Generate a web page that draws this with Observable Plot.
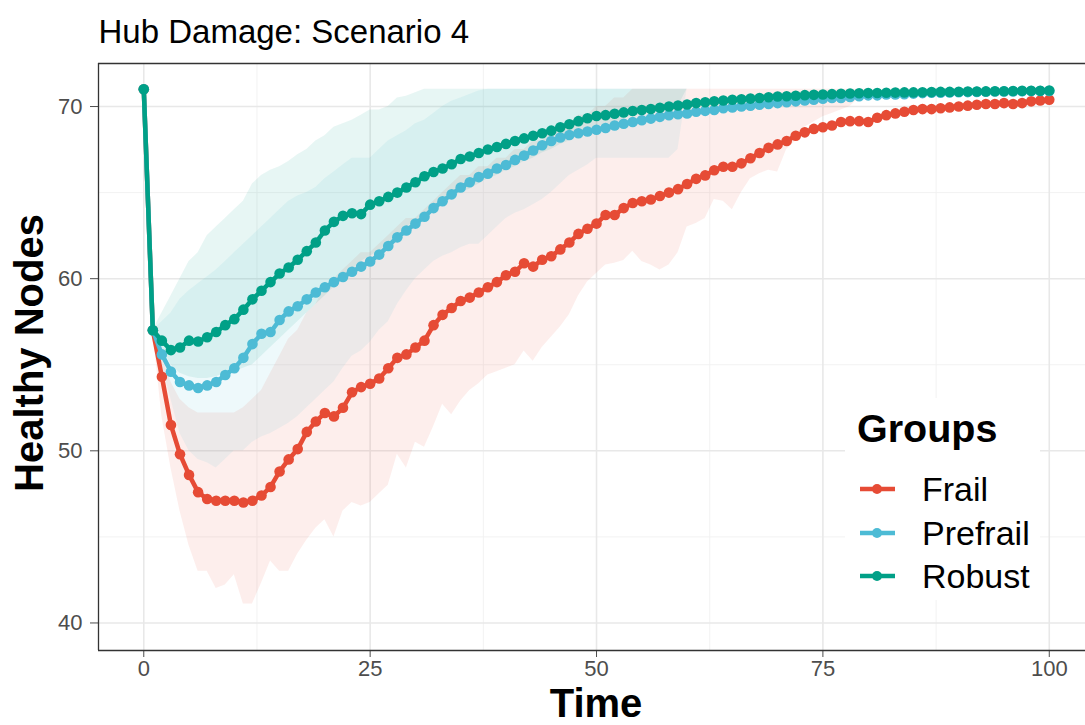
<!DOCTYPE html>
<html>
<head>
<meta charset="utf-8">
<script src="https://cdn.jsdelivr.net/npm/d3@7"></script>
<script src="https://cdn.jsdelivr.net/npm/@observablehq/plot@0.6"></script>
<style>
  body { margin: 0; background: #fff; font-family: "Liberation Sans", Arial, Helvetica, sans-serif; }
  #wrap { position: relative; width: 1085px; height: 725px; overflow: hidden; background: #fff; }
  #legend { position: absolute; left: 845px; top: 398px; }
</style>
</head>
<body>
<div id="wrap"></div>
<script>
// ---------------- data ----------------
const chartTitle = "Hub Damage: Scenario 4";
const xTitle = "Time";
const yTitle = "Healthy Nodes";
const legendTitle = "Groups";
const groups = ["Frail", "Prefrail", "Robust"];
const colors = ["#E64B35", "#4DBBD5", "#00A087"];

const xTicks = [0, 25, 50, 75, 100];
const xMinor = [12.5, 37.5, 62.5, 87.5];
const yTicks = [40, 50, 60, 70];
const yMinor = [45, 55, 65];
const xDomain = [-5, 104];
const yDomain = [38.4, 72.5];

const time = [
  0, 1, 2, 3, 4, 5, 6, 7, 8, 9,
  10, 11, 12, 13, 14, 15, 16, 17, 18, 19,
  20, 21, 22, 23, 24, 25, 26, 27, 28, 29,
  30, 31, 32, 33, 34, 35, 36, 37, 38, 39,
  40, 41, 42, 43, 44, 45, 46, 47, 48, 49,
  50, 51, 52, 53, 54, 55, 56, 57, 58, 59,
  60, 61, 62, 63, 64, 65, 66, 67, 68, 69,
  70, 71, 72, 73, 74, 75, 76, 77, 78, 79,
  80, 81, 82, 83, 84, 85, 86, 87, 88, 89,
  90, 91, 92, 93, 94, 95, 96, 97, 98, 99,
  100];

const frailMean = [
  71, 57, 54.3, 51.5, 49.8, 48.6, 47.6, 47.2, 47.1, 47.1,
  47.1, 47.0, 47.1, 47.4, 47.9, 48.8, 49.5, 50.1, 51.1, 51.7,
  52.2, 52.0, 52.5, 53.4, 53.7, 53.9, 54.2, 54.8, 55.4, 55.6,
  56.0, 56.4, 57.3, 57.9, 58.3, 58.7, 58.9, 59.2, 59.5, 59.8,
  60.2, 60.4, 60.9, 60.7, 61.1, 61.3, 61.7, 62.1, 62.6, 62.9,
  63.2, 63.7, 63.7, 64.1, 64.4, 64.5, 64.6, 64.8, 65.0, 65.2,
  65.5, 65.8, 66.0, 66.3, 66.5, 66.5, 66.7, 67.0, 67.3, 67.6,
  67.8, 68.0, 68.3, 68.5, 68.7, 68.8, 68.9, 69.1, 69.15, 69.15,
  69.1, 69.35, 69.5, 69.6, 69.7, 69.8, 69.85, 69.85, 69.9, 69.95,
  70.0, 70.05, 70.1, 70.15, 70.15, 70.2, 70.15, 70.2, 70.3, 70.35,
  70.4];

const prefrailMean = [
  71, 57, 55.6, 54.6, 54.0, 53.8, 53.65, 53.8, 54.0, 54.4,
  54.8, 55.4, 56.2, 56.8, 56.9, 57.6, 58.1, 58.4, 58.8, 59.2,
  59.5, 59.8, 60.1, 60.4, 60.7, 61.0, 61.4, 61.9, 62.4, 62.8,
  63.2, 63.6, 64.1, 64.5, 64.9, 65.3, 65.6, 65.9, 66.1, 66.4,
  66.6, 66.9, 67.15, 67.45, 67.75, 68.0, 68.2, 68.35, 68.45, 68.55,
  68.65, 68.75, 68.9, 69.0, 69.1, 69.2, 69.3, 69.4, 69.5, 69.55,
  69.6, 69.7, 69.75, 69.8, 69.9, 69.95, 70.0, 70.05, 70.1, 70.15,
  70.2, 70.25, 70.3, 70.35, 70.4, 70.45, 70.5, 70.5, 70.55, 70.6,
  70.65, 70.65, 70.7, 70.7, 70.72, 70.75, 70.78, 70.8, 70.8, 70.82,
  70.83, 70.84, 70.85, 70.86, 70.87, 70.88, 70.88, 70.89, 70.9, 70.9,
  70.9];

const robustMean = [
  71, 57, 56.4, 55.85, 56.0, 56.4, 56.35, 56.6, 56.9, 57.3,
  57.65, 58.2, 58.8, 59.3, 59.8, 60.3, 60.65, 61.1, 61.6, 62.1,
  62.8, 63.3, 63.65, 63.8, 63.75, 64.3, 64.5, 64.75, 65.0, 65.3,
  65.6, 65.95, 66.2, 66.4, 66.65, 66.95, 67.1, 67.3, 67.5, 67.65,
  67.83, 68.0, 68.15, 68.3, 68.45, 68.6, 68.8, 68.97, 69.15, 69.32,
  69.45, 69.5, 69.58, 69.66, 69.74, 69.8, 69.86, 69.93, 70.0, 70.06,
  70.12, 70.2, 70.25, 70.3, 70.35, 70.39, 70.42, 70.46, 70.5, 70.54,
  70.58, 70.6, 70.63, 70.66, 70.68, 70.7, 70.72, 70.74, 70.76, 70.77,
  70.78, 70.79, 70.8, 70.81, 70.82, 70.82, 70.83, 70.84, 70.85, 70.85,
  70.86, 70.87, 70.87, 70.88, 70.89, 70.89, 70.9, 70.91, 70.92, 70.92,
  70.93];

const frailLower = [
  71, 57, 52, 49, 46.5, 44.5, 43, 43, 42, 42.2,
  42.8, 41.1, 41.1, 42.3, 43.6, 43, 43, 44, 44.8, 45.5,
  46, 45, 46.5, 47, 46.8, 47, 47.5, 48, 49.8, 49,
  50.5, 50.2, 51.4, 52.7, 52.1, 52.9, 53.5, 53.9, 54.4, 54.6,
  54.8, 55, 55.8, 55.2, 56, 56.6, 57.2, 57.9, 59, 59.8,
  60.3, 60.8, 60.9, 61.05, 61.6, 61, 60.8, 60.5, 60.8, 61.5,
  63, 63.2, 63.5, 64.6, 64.5, 64, 65, 65.8, 66.1, 66.3,
  66.2, 67.5, 68, 68.8, 69.1, 69.4, 69.6, 69.8, 70, 70.5,
  71, 71, 71, 71, 71, 71, 71, 71, 71, 71,
  71, 71, 71, 71, 71, 71, 71, 71, 71, 71,
  71];

const frailUpper = [
  71, 57, 55.5, 54, 53, 52.5, 52.2, 52.2, 52.2, 52.2,
  52.2, 52.5, 53, 53.5, 54.5, 55.5, 56.5, 57, 58, 58.5,
  59.5, 60, 60.5, 61, 61.5, 61.5, 62, 62.5, 63, 63.5,
  63.5, 64, 64.5, 65, 65.5, 66, 66, 66.5, 66.5, 67,
  67, 67.5, 67.5, 68, 68, 68.5, 69, 69, 69.5, 69.5,
  70, 70, 70.5, 70.5, 71, 71, 71, 71, 71, 71,
  71, 71, 71, 71, 71, 71, 71, 71, 71, 71,
  71, 71, 71, 71, 71, 71, 71, 71, 71, 71,
  71, 71, 71, 71, 71, 71, 71, 71, 71, 71,
  71, 71, 71, 71, 71, 71, 71, 71, 71, 71,
  71];

const prefrailLower = [
  71, 57, 55, 53, 51, 50, 49.5, 49.3, 49, 49.5,
  50, 50, 50.5, 50.8, 51, 51.3, 51.6, 52, 52.5, 53,
  53.5, 54, 54.8, 55.5, 55.8, 56.3, 57, 57.5, 58.5, 59.3,
  60, 60.5, 61, 61.3, 61.5, 61.8, 62, 62, 62.5, 63,
  63.5, 63.8, 64, 64.3, 64.6, 65, 65.5, 66, 66.3, 66.6,
  67, 67, 67, 67, 67, 67, 67, 67, 67, 67.5,
  71, 71, 71, 71, 71, 71, 71, 71, 71, 71,
  71, 71, 71, 71, 71, 71, 71, 71, 71, 71,
  71, 71, 71, 71, 71, 71, 71, 71, 71, 71,
  71, 71, 71, 71, 71, 71, 71, 71, 71, 71,
  71];

const prefrailUpper = [
  71, 57, 57.5, 58, 58.8, 59.3, 59.7, 60.1, 60.5, 61,
  61.5, 62, 62.5, 63, 63.5, 64, 64.5, 64.8, 65, 65.3,
  65.8, 66.2, 66.6, 67, 67, 67, 67.5, 68, 68.3, 68.6,
  69, 69.2, 69.6, 70, 70.3, 70.5, 70.7, 70.9, 71, 71,
  71, 71, 71, 71, 71, 71, 71, 71, 71, 71,
  71, 71, 71, 71, 71, 71, 71, 71, 71, 71,
  71, 71, 71, 71, 71, 71, 71, 71, 71, 71,
  71, 71, 71, 71, 71, 71, 71, 71, 71, 71,
  71, 71, 71, 71, 71, 71, 71, 71, 71, 71,
  71, 71, 71, 71, 71, 71, 71, 71, 71, 71,
  71];

const robustLower = [
  71, 57, 56, 55, 54.5, 54.3, 54.2, 54.2, 54.3, 54.5,
  54.6, 54.8, 55, 55.5, 56, 56.5, 57, 57.5, 58, 58.5,
  59, 59.5, 60, 60.5, 61, 61.3, 61.6, 62, 62.5, 63,
  63.3, 63.6, 64, 64.3, 64.6, 65, 65.2, 65.5, 65.8, 66,
  66.3, 66.5, 66.8, 67, 67.3, 67.5, 67.8, 68, 68.3, 68.5,
  68.8, 69, 69, 69.3, 69.5, 69.5, 69.8, 70, 70, 70,
  71, 71, 71, 71, 71, 71, 71, 71, 71, 71,
  71, 71, 71, 71, 71, 71, 71, 71, 71, 71,
  71, 71, 71, 71, 71, 71, 71, 71, 71, 71,
  71, 71, 71, 71, 71, 71, 71, 71, 71, 71,
  71];

const robustUpper = [
  71, 57, 58, 59, 60, 61, 61.5, 62.5, 63, 63.5,
  64, 64.5, 65.5, 66, 66.3, 66.5, 66.8, 67.2, 67.5, 68,
  68.3, 68.8, 69, 69.2, 69.5, 69.8, 69.8, 70, 70.5, 70.6,
  70.8, 71, 71, 71, 71, 71, 71, 71, 71, 71,
  71, 71, 71, 71, 71, 71, 71, 71, 71, 71,
  71, 71, 71, 71, 71, 71, 71, 71, 71, 71,
  71, 71, 71, 71, 71, 71, 71, 71, 71, 71,
  71, 71, 71, 71, 71, 71, 71, 71, 71, 71,
  71, 71, 71, 71, 71, 71, 71, 71, 71, 71,
  71, 71, 71, 71, 71, 71, 71, 71, 71, 71,
  71];

// ---------------- build ----------------
const means = [frailMean, prefrailMean, robustMean];
const lowers = [frailLower, prefrailLower, robustLower];
const uppers = [frailUpper, prefrailUpper, robustUpper];

const series = groups.map((g, k) => ({
  name: g,
  color: colors[k],
  data: time.map((t, i) => ({t, m: means[k][i], lo: lowers[k][i], hi: uppers[k][i], group: g}))
}));

const FONT = '"Liberation Sans", Arial, Helvetica, sans-serif';

const plot = Plot.plot({
  width: 1085,
  height: 725,
  marginLeft: 98,
  marginRight: 0,
  marginTop: 63,
  marginBottom: 75,
  style: {fontFamily: FONT, fontSize: "22px", color: "#4d4d4d", background: "#fff", overflow: "visible"},
  x: {domain: xDomain, ticks: xTicks, tickSize: 7, tickPadding: 3, label: null, tickFormat: d => String(d)},
  y: {domain: yDomain, ticks: yTicks, tickSize: 8, tickPadding: 8, label: null, tickFormat: d => String(d)},
  marks: [
    Plot.ruleX(xMinor, {stroke: "#f1f1f1", strokeWidth: 0.9}),
    Plot.ruleY(yMinor, {stroke: "#f1f1f1", strokeWidth: 0.9}),
    Plot.ruleX(xTicks, {stroke: "#e8e8e8", strokeWidth: 1.6}),
    Plot.ruleY(yTicks, {stroke: "#e8e8e8", strokeWidth: 1.6}),
    ...series.map(s => Plot.areaY(s.data, {x: "t", y1: "lo", y2: "hi", fill: s.color, fillOpacity: 0.095})),
    ...series.flatMap(s => [
      Plot.line(s.data, {x: "t", y: "m", stroke: s.color, strokeWidth: 4.5}),
      Plot.dot(s.data, {x: "t", y: "m", fill: s.color, r: 5.3})
    ]),
    Plot.ruleY([yDomain[1]], {stroke: "#333", strokeWidth: 1.3}),
    Plot.ruleY([yDomain[0]], {stroke: "#333", strokeWidth: 1.3}),
    Plot.ruleX([xDomain[0]], {stroke: "#333", strokeWidth: 1.3}),
    Plot.text([chartTitle], {frameAnchor: "top-left", text: d => d, textAnchor: "start", lineAnchor: "bottom", dy: -21, fontSize: 33, fill: "#000"}),
    Plot.text([yTitle], {frameAnchor: "left", text: d => d, rotate: -90, textAnchor: "middle", lineAnchor: "middle", dx: -68, dy: -4, fontSize: 40, fontWeight: "bold", fill: "#000"}),
    Plot.text([xTitle], {frameAnchor: "bottom", text: d => d, textAnchor: "middle", lineAnchor: "middle", dx: 4, dy: 54, fontSize: 40, fontWeight: "bold", fill: "#000"})
  ]
});

const wrap = document.getElementById("wrap");
wrap.appendChild(plot);

// ---------------- legend ----------------
const lg = d3.create("svg")
  .attr("id", "legend")
  .attr("width", 200).attr("height", 205)
  .style("font-family", FONT);
lg.append("rect").attr("width", 195).attr("height", 202).attr("fill", "#fff");
lg.append("text").attr("x", 12).attr("y", 44)
  .attr("font-size", 39.5).attr("font-weight", "bold").attr("fill", "#000").text(legendTitle);
const rowY = [91, 135, 178];
groups.forEach((g, k) => {
  const row = lg.append("g").attr("transform", `translate(0,${rowY[k]})`);
  row.append("line").attr("x1", 15).attr("x2", 50).attr("y1", 0).attr("y2", 0)
    .attr("stroke", colors[k]).attr("stroke-width", 4.5);
  row.append("circle").attr("cx", 32).attr("cy", 0).attr("r", 5).attr("fill", colors[k]);
  row.append("text").attr("x", 77).attr("y", 12).attr("font-size", 34).attr("fill", "#000").text(g);
});
wrap.appendChild(lg.node());
</script>
</body>
</html>
